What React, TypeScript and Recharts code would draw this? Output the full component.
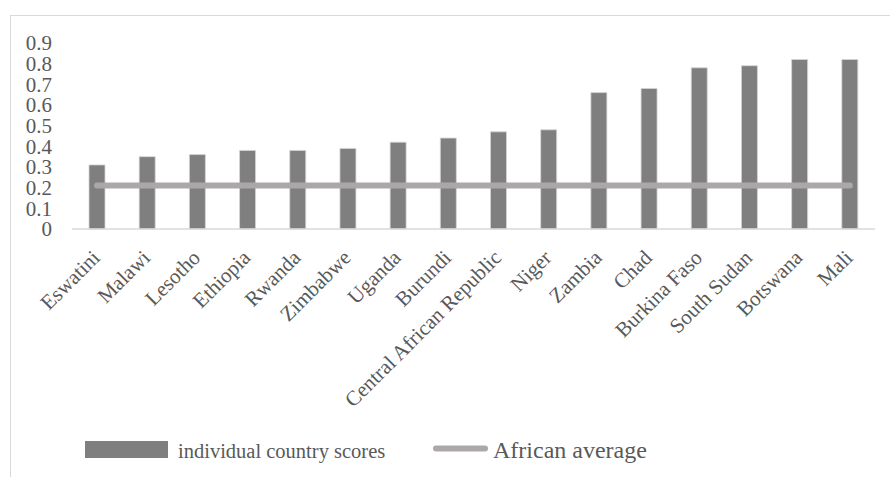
import React from "react";
import { ComposedChart, Bar, Line, XAxis, YAxis } from "recharts";

const countries = [
  "Eswatini",
  "Malawi",
  "Lesotho",
  "Ethiopia",
  "Rwanda",
  "Zimbabwe",
  "Uganda",
  "Burundi",
  "Central African Republic",
  "Niger",
  "Zambia",
  "Chad",
  "Burkina Faso",
  "South Sudan",
  "Botswana",
  "Mali",
];

const countryScores = [
  0.31, 0.35, 0.36, 0.38, 0.38, 0.39, 0.42, 0.44, 0.47, 0.48, 0.66, 0.68, 0.78,
  0.79, 0.82, 0.82,
];

const africanAverage = 0.21;

const yTicks = [0, 0.1, 0.2, 0.3, 0.4, 0.5, 0.6, 0.7, 0.8, 0.9];

const rows = countries.map((name, i) => ({
  name,
  score: countryScores[i],
  avg: africanAverage,
}));

const FONT = "Liberation Serif";
const TEXT = "#595959";
const BAR = "#7f7f7f";
const AVG = "#aca8a8";

function CountryTick({ x, y, payload }: { x?: number; y?: number; payload?: { value: string } }) {
  return (
    <g transform={`translate(${(x ?? 0) + 4},${(y ?? 0) + 22})`}>
      <text
        x={0}
        y={0}
        transform="rotate(-45)"
        textAnchor="end"
        fill={TEXT}
        style={{ fontFamily: FONT, fontSize: 21 }}
      >
        {payload?.value}
      </text>
    </g>
  );
}

// legend glyphs + labels under the plot
function ChartLegend() {
  return (
    <svg
      width={890}
      height={40}
      style={{ position: "absolute", left: 0, top: 430, display: "block" }}
    >
      <rect x={85} y={11} width={83} height={17} fill={BAR} />
      <text x={178} y={27.5} fill={TEXT} style={{ fontFamily: FONT, fontSize: 20.5 }}>
        individual country scores
      </text>
      <line x1={436} y1={18.5} x2={485} y2={18.5} stroke={AVG} strokeWidth={6} strokeLinecap="round" />
      <text x={493} y={28} fill={TEXT} style={{ fontFamily: FONT, fontSize: 24 }}>
        African average
      </text>
    </svg>
  );
}

export default function App() {
  return (
    <div
      style={{
        position: "fixed",
        left: 0,
        top: 0,
        width: 890,
        height: 477,
        background: "#fff",
        overflow: "hidden",
      }}
    >
      {/* frame around the chart area */}
      <div
        style={{
          position: "absolute",
          left: 10,
          top: 15,
          width: 900,
          height: 500,
          borderTop: "1.5px solid #d9d9d9",
          borderLeft: "1.5px solid #d9d9d9",
        }}
      />
      <ComposedChart
        width={890}
        height={477}
        data={rows}
        margin={{ top: 43, right: 15, left: 10, bottom: 98 }}
        style={{ position: "absolute", left: 0, top: 0 }}
      >
        <XAxis
          dataKey="name"
          interval={0}
          height={150}
          axisLine={{ stroke: "#d9d9d9", strokeWidth: 1.5 }}
          tickLine={false}
          tick={<CountryTick />}
        />
        <YAxis
          width={62}
          domain={[0, 0.9]}
          ticks={yTicks}
          interval={0}
          axisLine={false}
          tickLine={false}
          tickSize={0}
          tickMargin={20}
          tickFormatter={(v: number) => String(v)}
          tick={{ fill: TEXT, fontFamily: FONT, fontSize: 21 }}
        />
        <Bar
          dataKey="score"
          name="individual country scores"
          fill={BAR}
          stroke="#d6d6d6"
          strokeWidth={0.8}
          barSize={16}
          isAnimationActive={false}
        />
        <Line
          dataKey="avg"
          name="African average"
          stroke={AVG}
          strokeWidth={6}
          strokeLinecap="round"
          dot={false}
          activeDot={false}
          isAnimationActive={false}
        />
      </ComposedChart>
      <ChartLegend />
    </div>
  );
}
